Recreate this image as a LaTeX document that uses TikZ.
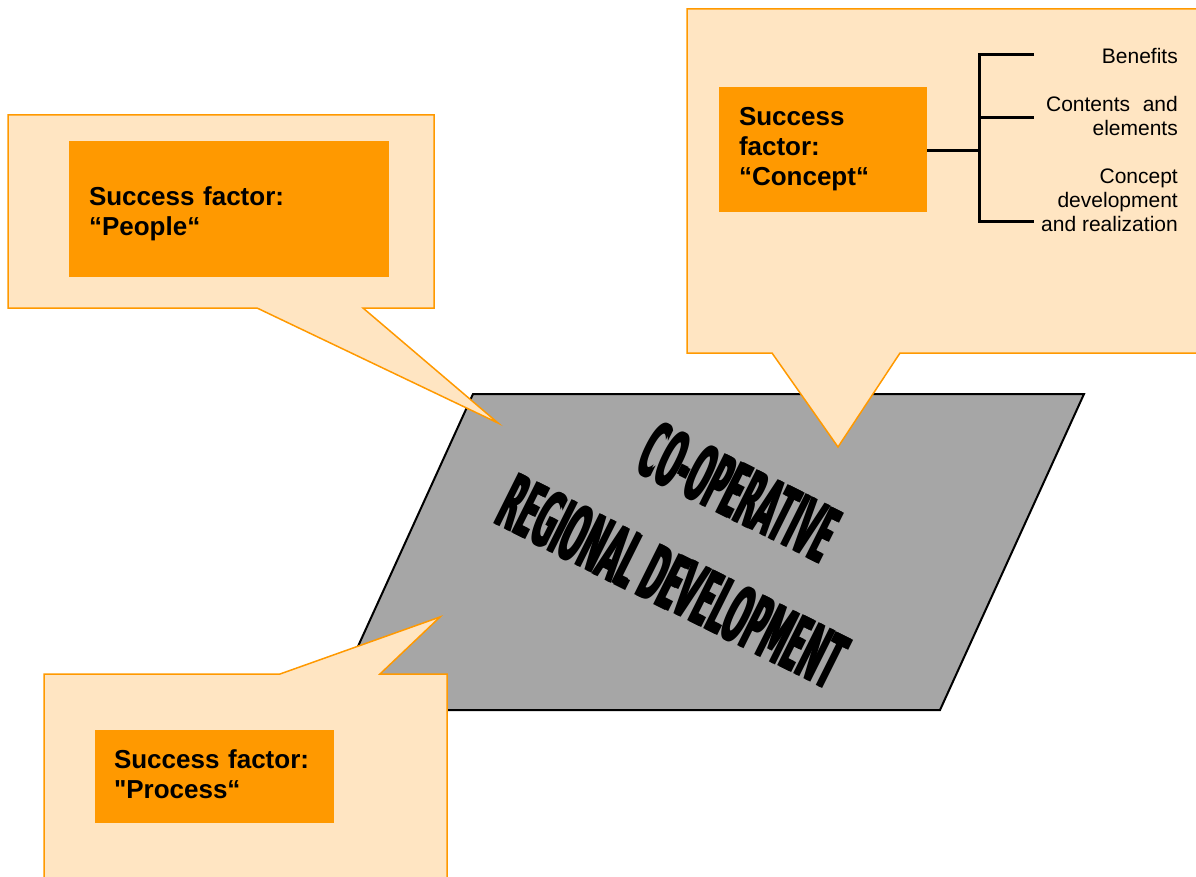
\documentclass[tikz,border=0pt]{standalone}
\usepackage{fontspec}
\usepackage{graphicx}
\newfontfamily\labelfont{Liberation Sans}
\newfontfamily\artfont{DejaVu Sans}
% heavier condensed lettering: a second pass shifted along the baseline
\newcommand\thickened[1]{\mbox{\rlap{#1}\kern.9pt#1}}
\definecolor{peach}{HTML}{FFE5C2}
\definecolor{amber}{HTML}{FF9900}
\definecolor{slab}{HTML}{A6A6A6}
\begin{document}
\begin{tikzpicture}[x=1pt,y=-1pt,
  callout/.style={fill=peach,draw=amber,line width=1.5pt,line join=miter},
  factorbox/.style={fill=amber,inner sep=0pt,align=left,
    font=\labelfont\fontsize{26}{30}\selectfont\bfseries},
  wordart/.style={rotate=-26.5,anchor=base,inner sep=0pt},
  branchlabel/.style={anchor=base east,inner sep=0pt,
    font=\labelfont\fontsize{21}{24}\selectfont},
  bracket/.style={line width=3pt,line join=miter}]
\useasboundingbox (0,0) rectangle (1196,877);
\clip (0,0) rectangle (1196,877);

% central slab
\draw[fill=slab,line width=2pt,line join=miter]
  (473,394) -- (1084,394) -- (940,710) -- (329,710) -- cycle;
\node[wordart] (coop) at (727,518)
  {\resizebox{211pt}{58pt}{\artfont\bfseries\thickened{CO-OPERATIVE}}};
\node[wordart] (regdev) at (660,607)
  {\resizebox{377pt}{58pt}{\artfont\bfseries\thickened{REGIONAL DEVELOPMENT}}};

% speech callouts
\draw[callout] (8,115) -- (434,115) -- (434,308) -- (363,308) -- (498,423)
  -- (257,308) -- (8,308) -- cycle;
\draw[callout] (687,9) -- (1210,9) -- (1210,353) -- (900,353) -- (838,447)
  -- (772,353) -- (687,353) -- cycle;
\draw[callout] (44,674) -- (280,674) -- (440,617) -- (380,674) -- (447,674)
  -- (447,890) -- (44,890) -- cycle;

% success factor boxes (struts set the text a little off centre)
\node[factorbox,minimum width=320pt,minimum height=136pt,text width=280pt]
  (people) at (229,209) {\rule{0pt}{28pt}Success factor:\\“People“};
\node[factorbox,minimum width=208pt,minimum height=125pt,text width=168pt]
  (concept) at (823,149.5) {Success\\factor:\\“Concept“};
\node[factorbox,minimum width=239pt,minimum height=93pt,text width=201pt]
  (process) at (214.5,776.5) {Success factor:\\"Process“\rule[-4pt]{0pt}{4pt}};

% concept bracket
\coordinate (fork) at (979,151);
\coordinate (jtop) at (979,55);
\coordinate (jmid) at (979,118);
\coordinate (jbot) at (979,222);
\coordinate (etop) at (1034,55);
\coordinate (emid) at (1034,118);
\coordinate (ebot) at (1034,222);
\draw[bracket] (concept.east |- fork) -- (fork);
\draw[bracket] (etop) -- (jtop) -- (jbot) -- (ebot);
\draw[bracket] (jmid) -- (emid);

\node[branchlabel] (benefits) at (1178,64) {Benefits};
\node[branchlabel] (contents) at (1178,112) {Contents\hspace{0.6em}and};
\node[branchlabel] (elements) at (1178,136) {elements};
\node[branchlabel] (cdev1) at (1178,184) {Concept};
\node[branchlabel] (cdev2) at (1178,208) {development};
\node[branchlabel] (cdev3) at (1178,232) {and realization};
\end{tikzpicture}
\end{document}
